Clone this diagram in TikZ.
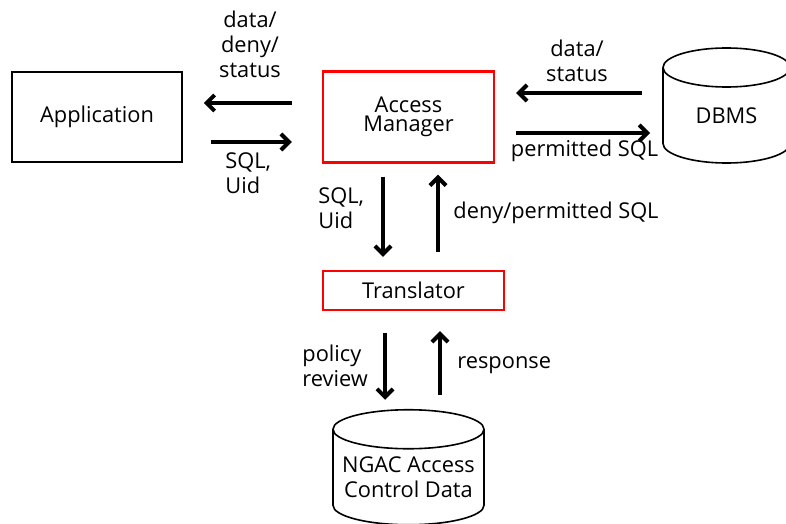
\documentclass[tikz,border=0pt]{standalone}
\usepackage{fontspec}
\setsansfont{Open Sans}
\usetikzlibrary{arrows.meta}

\begin{document}
\begin{tikzpicture}[
x=0.5pt,y=-0.5pt,
every node/.append style={font={\sffamily\fontsize{10.9}{12.5}\selectfont}},
box/.style={draw,line width=0.8pt},
redbox/.style={draw=red,line width=1.2pt},
store/.style={inner sep=0pt,outer sep=0pt,align=center},
drum/.style={line width=0.8pt},
comm/.style={-{Straight Barb[length=4pt,width=8pt]},line width=2pt},
lbl/.style={inner sep=0pt},
]
\useasboundingbox (0,0) rectangle (786,524);

% boxes
\node[box,minimum width=85pt,minimum height=45pt] (app) at (97,117) {Application};
\node[redbox,minimum width=85.5pt,minimum height=45.5pt,align=center,
  font={\sffamily\fontsize{10.9}{9.5}\selectfont}] (am) at (408.5,117) {Access\\Manager};
\node[redbox,minimum width=90.5pt,minimum height=19.5pt] (tr) at (413.5,290.5) {Translator};

% stores: node = body below the top rim
\node[store,minimum width=63.5pt,minimum height=47.75pt] (dbms) at (726.5,115.25) {DBMS};
\draw[drum] (dbms.north west) -- ([yshift=9.75pt]dbms.south west)
  arc[start angle=180,end angle=360,x radius=31.75pt,y radius=9.75pt] -- (dbms.north east)
  arc[start angle=0,end angle=360,x radius=31.75pt,y radius=9.75pt];
\node[store,minimum width=75.5pt,minimum height=47.75pt] (ngac) at (408.5,477) {NGAC Access\\Control Data};
\draw[drum] (ngac.north west) -- ([yshift=9.75pt]ngac.south west)
  arc[start angle=180,end angle=360,x radius=37.75pt,y radius=9.75pt] -- (ngac.north east)
  arc[start angle=0,end angle=360,x radius=37.75pt,y radius=9.75pt];

% Application <-> Access Manager
\draw[comm,shorten <=15pt,shorten >=10.5pt] ([yshift=7pt]am.west) -- ([yshift=7pt]app.east);
\draw[comm,shorten <=14pt,shorten >=15pt] ([yshift=-12.5pt]app.east) -- ([yshift=-12.5pt]am.west);
\node[lbl,align=center] (l1) at (250,44) {data/\\deny/\\status};
\node[lbl,align=left,anchor=west] (l2) at (225,173) {SQL,\\Uid};

% Access Manager <-> DBMS
\draw[comm,shorten <=10.5pt,shorten >=10.5pt] ([yshift=12pt]am.east -| dbms.west) -- ([yshift=12pt]am.east);
\draw[comm,shorten <=10.5pt,shorten >=6.5pt] ([yshift=-8pt]am.east) -- ([yshift=-8pt]am.east -| dbms.west);
\node[lbl,align=center] (l3) at (577,61) {data/\\status};
\node[lbl] (l4) at (584.5,151) {permitted SQL};

% Access Manager <-> Translator
\draw[comm,shorten <=6.5pt,shorten >=6.5pt] ([xshift=-12.75pt]am.south) -- ([xshift=-12.75pt]am.south |- tr.north);
\draw[comm,shorten <=9pt,shorten >=5.5pt] ([xshift=14.75pt]am.south |- tr.north) -- ([xshift=14.75pt]am.south);
\node[lbl,align=left,anchor=west] (l5) at (318,208) {SQL,\\Uid};
\node[lbl,anchor=west] (l6) at (453,213) {deny/permitted SQL};

% Translator <-> NGAC data (north of the store sits on the rim's middle)
\draw[comm,shorten <=11pt,shorten >=14.75pt] ([xshift=-14.25pt]tr.south) -- ([xshift=-14.25pt]tr.south |- ngac.north);
\draw[comm,shorten <=17.25pt,shorten >=10pt] ([xshift=13.25pt]tr.south |- ngac.north) -- ([xshift=13.25pt]tr.south);
\node[lbl,align=left,anchor=west] (l7) at (302,366) {policy\\review};
\node[lbl,anchor=west] (l8) at (457,365) {response};

\end{tikzpicture}
\end{document}
